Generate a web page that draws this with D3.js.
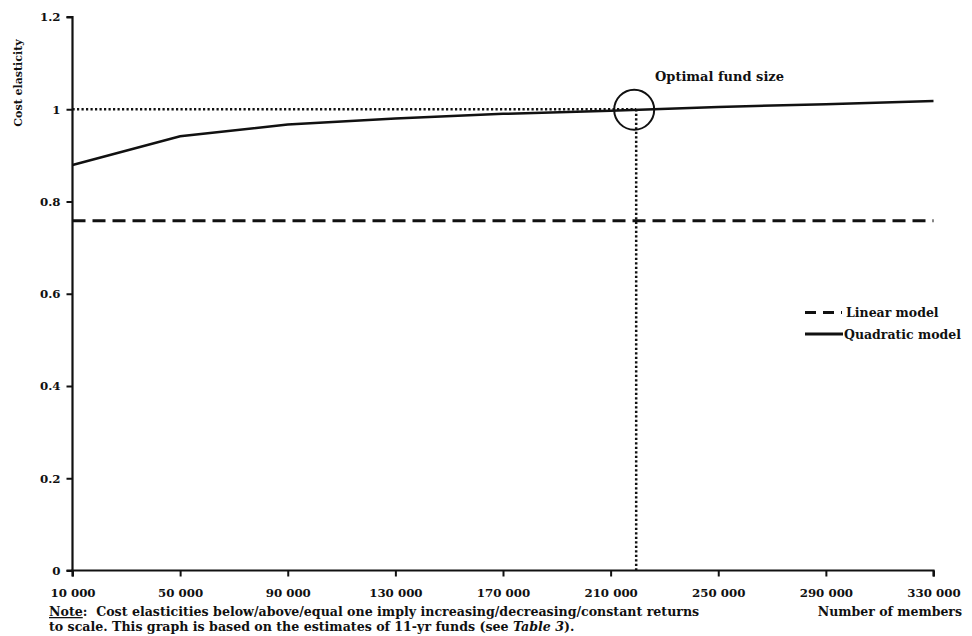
<!DOCTYPE html>
<html><head><meta charset="utf-8">
<script src="https://cdn.jsdelivr.net/npm/d3@7"></script>
<style>
body{margin:0;background:#fff;}
text{font-family:"DejaVu Serif",serif;font-weight:bold;fill:#111;white-space:pre;}
</style></head>
<body><svg id="c" width="972" height="636"></svg>
<script>
const members = [10000, 50000, 90000, 130000, 170000, 210000, 250000, 290000, 330000];
const quadratic = [0.879, 0.9416, 0.967, 0.980, 0.990, 0.997, 1.005, 1.011, 1.018];
const linearValue = 0.758;
const optimalSize = 219500;
const constantReturns = 1;
const xTicks = [10000, 50000, 90000, 130000, 170000, 210000, 250000, 290000, 330000];
const yTicks = [0, 0.2, 0.4, 0.6, 0.8, 1, 1.2];
const yTickLabels = ["0", "0.2", "0.4", "0.6", "0.8", "1", "1.2"];

const svg = d3.select("#c");
const x = d3.scaleLinear().domain([10000, 330000]).range([72.5, 933.5]);
const y = d3.scaleLinear().domain([0, 1.2]).range([570.5, 17]);

// reference lines
svg.append("line").attr("x1", x(10000)).attr("x2", x(optimalSize))
  .attr("y1", y(constantReturns)).attr("y2", y(constantReturns))
  .attr("stroke", "#111").attr("stroke-width", 2.5).attr("stroke-dasharray", "2.2,2.3");
svg.append("line").attr("x1", x(optimalSize)).attr("x2", x(optimalSize))
  .attr("y1", y(constantReturns)).attr("y2", y(0))
  .attr("stroke", "#111").attr("stroke-width", 2.5).attr("stroke-dasharray", "2.2,2.3");

// linear model
svg.append("line").attr("x1", x(10000)).attr("x2", x(330000))
  .attr("y1", y(linearValue)).attr("y2", y(linearValue))
  .attr("stroke", "#111").attr("stroke-width", 3).attr("stroke-dasharray", "13,7");

// quadratic model
const line = d3.line().x((d, i) => x(members[i])).y(d => y(d));
svg.append("path").datum(quadratic).attr("d", line)
  .attr("fill", "none").attr("stroke", "#111").attr("stroke-width", 2.5);

// circle
svg.append("circle").attr("cx", x(optimalSize) - 2).attr("cy", y(constantReturns) + 0.5).attr("r", 20)
  .attr("fill", "none").attr("stroke", "#111").attr("stroke-width", 2);
svg.append("text").attr("x", 655).attr("y", 81).attr("font-size", 13).text("Optimal fund size");

// axes
const xAxis = d3.axisBottom(x).tickValues(xTicks).tickSize(6)
  .tickFormat(d => d3.format(",")(d).replace(/,/g, " "));
const gx = svg.append("g").attr("transform", `translate(0,${y(0)})`).call(xAxis);
gx.select(".domain").attr("stroke", "#111").attr("stroke-width", 2.2).attr("d", `M${x(10000)},6V0H${x(330000)}V6`);
gx.selectAll(".tick line").attr("stroke", "#111").attr("stroke-width", 2);
gx.selectAll(".tick text").attr("font-size", 11.8).attr("dy", null).attr("y", 26)
  .style("font-family", "DejaVu Serif").style("font-weight", "bold").attr("fill", "#111");

const yAxis = d3.axisLeft(y).tickValues(yTicks).tickSize(6)
  .tickFormat((d, i) => yTickLabels[i]);
const gy = svg.append("g").attr("transform", `translate(${x(10000)},0)`).call(yAxis);
gy.select(".domain").attr("stroke", "#111").attr("stroke-width", 2.2).attr("d", `M-6,${y(1.2)}H0V${y(0)}H-6`);
gy.selectAll(".tick line").attr("stroke", "#111").attr("stroke-width", 2);
gy.selectAll(".tick text").attr("font-size", 11.8).attr("x", -12)
  .style("font-family", "DejaVu Serif").style("font-weight", "bold").attr("fill", "#111");

svg.append("text").attr("transform", "translate(22,83) rotate(-90)")
  .attr("text-anchor", "middle").attr("font-size", 11).text("Cost elasticity");

// legend
svg.append("line").attr("x1", 805).attr("x2", 842).attr("y1", 312.5).attr("y2", 312.5)
  .attr("stroke", "#111").attr("stroke-width", 3).attr("stroke-dasharray", "11,7");
svg.append("text").attr("x", 846).attr("y", 317).attr("font-size", 12.5).text("Linear model");
svg.append("line").attr("x1", 805).attr("x2", 843).attr("y1", 334).attr("y2", 334)
  .attr("stroke", "#111").attr("stroke-width", 3);
svg.append("text").attr("x", 844).attr("y", 338.5).attr("font-size", 12.5).text("Quadratic model");

// note
svg.append("text").attr("x", 962).attr("y", 616).attr("text-anchor", "end").attr("font-size", 12.5).text("Number of members");
const n1 = svg.append("text").attr("x", 49).attr("y", 616).attr("font-size", 12.6);
n1.append("tspan").attr("text-decoration", "underline").text("Note");
n1.append("tspan").text(":  Cost elasticities below/above/equal one imply increasing/decreasing/constant returns");
const n2 = svg.append("text").attr("x", 49).attr("y", 631).attr("font-size", 12.6);
n2.append("tspan").text("to scale. This graph is based on the estimates of 11-yr funds (see ");
n2.append("tspan").attr("font-style", "italic").text("Table 3");
n2.append("tspan").text(").");
</script></body></html>
